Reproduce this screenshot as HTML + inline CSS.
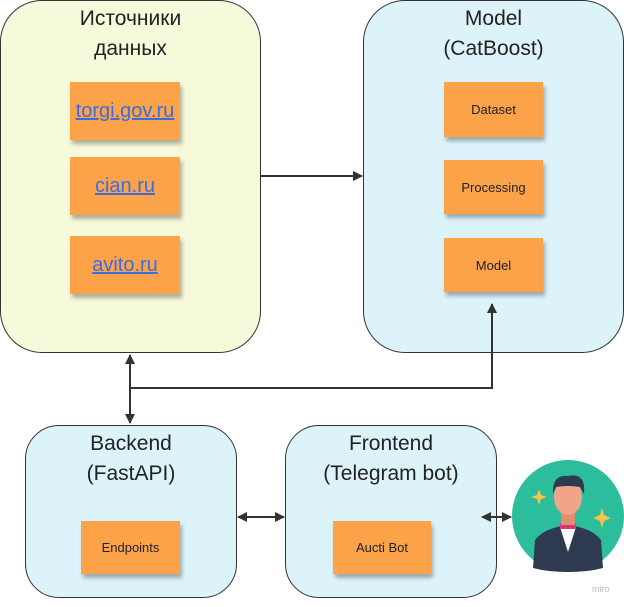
<!DOCTYPE html>
<html><head><meta charset="utf-8"><style>
body{margin:0;width:624px;height:607px;background:#fff;position:relative;overflow:hidden;font-family:"Liberation Sans","DejaVu Sans",sans-serif}
.box{position:absolute;border:1.5px solid #333;border-radius:42px;box-sizing:border-box;text-align:center;font-size:21px;color:#222;line-height:30px;padding-top:3px}
.st{position:absolute;background:#fca34a;box-shadow:2px 4px 4px rgba(0,0,0,.3);display:flex;align-items:center;justify-content:center;font-size:13px;color:#222}
.lk{font-size:20px;color:#3b6de0;text-decoration:underline}
</style></head><body>
<div class="box" style="left:0;top:0;width:261px;height:353px;background:#f6fadb">Источники<br>данных</div>
<div class="box" style="left:363px;top:0;width:261px;height:353px;background:#dcf3fa">Model<br>(CatBoost)</div>
<div class="box" style="left:25px;top:425px;width:212px;height:173px;background:#dcf3fa;border-radius:34px">Backend<br>(FastAPI)</div>
<div class="box" style="left:285px;top:425px;width:212px;height:173px;background:#dcf3fa;border-radius:34px">Frontend<br>(Telegram bot)</div>
<div class="st lk" style="left:70px;top:82px;width:110px;height:58px">torgi.gov.ru</div>
<div class="st lk" style="left:70px;top:157px;width:110px;height:58px">cian.ru</div>
<div class="st lk" style="left:70px;top:236px;width:110px;height:58px">avito.ru</div>
<div class="st" style="left:444px;top:82px;width:99px;height:55px">Dataset</div>
<div class="st" style="left:444px;top:160px;width:99px;height:54px">Processing</div>
<div class="st" style="left:444px;top:238px;width:99px;height:54px">Model</div>
<div class="st" style="left:81px;top:521px;width:99px;height:53px">Endpoints</div>
<div class="st" style="left:333px;top:521px;width:98px;height:53px">Aucti Bot</div>
<svg width="624" height="607" style="position:absolute;left:0;top:0">
<defs><marker id="a" viewBox="0 0 10 10" refX="9" refY="5" markerWidth="5" markerHeight="5" orient="auto-start-reverse"><path d="M0,0L10,5L0,10z" fill="#333"/></marker></defs>
<g stroke="#333" stroke-width="2" fill="none">
<line x1="261" y1="176" x2="362" y2="176" marker-end="url(#a)"/>
<line x1="130" y1="355" x2="130" y2="423" marker-start="url(#a)" marker-end="url(#a)"/>
<polyline points="130,388 492,388 492,304" marker-end="url(#a)"/>
<line x1="238" y1="517" x2="284" y2="517" marker-start="url(#a)" marker-end="url(#a)"/>
<line x1="482" y1="517" x2="511" y2="517" marker-start="url(#a)" marker-end="url(#a)"/>
</g>
<circle cx="568" cy="516" r="56" fill="#2bbd9c"/>
<path d="M533,568 L535,540 Q544,528 568,525 Q592,528 601,540 L603,568 Q588,572 568,572 Q548,572 533,568z" fill="#2e3a50"/>
<path d="M560,527 L568,552 L576,527z" fill="#fff"/>
<rect x="560" y="523" width="16" height="6" fill="#d63a7a"/>
<rect x="561" y="510" width="14" height="15" fill="#e0906e"/>
<ellipse cx="568" cy="497" rx="14" ry="18" fill="#f0a58a"/>
<path d="M553,494 Q552,474 568,476 Q586,472 584,494 L580,487 Q568,485 556,487z" fill="#2e3a50"/>
<path d="M539,489 l2,6 6,2 -6,2 -2,6 -2,-6 -6,-2 6,-2z" fill="#f7c443"/>
<path d="M602,508 l2,7 7,3 -7,3 -2,7 -2,-7 -7,-3 7,-3z" fill="#f7c443"/>
<text x="592" y="592" font-size="9" fill="#bbb" font-family="Liberation Sans">miro</text>
</svg>
</body></html>
